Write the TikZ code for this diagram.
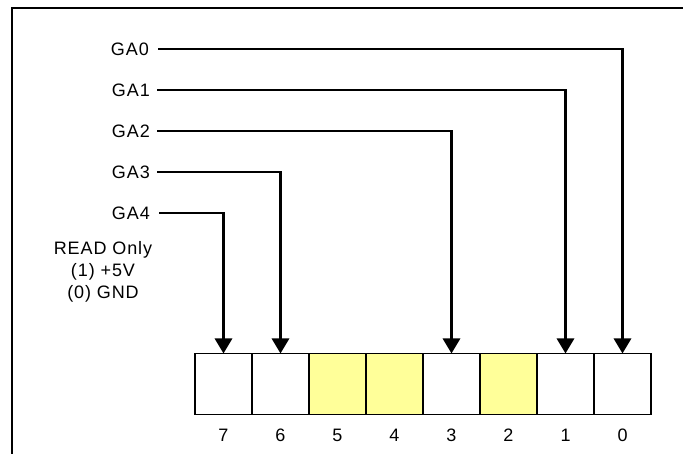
\documentclass[tikz,border=0pt]{standalone}
\usepackage{fontspec}
\setmainfont{Liberation Sans}[LetterSpace=5]
\usetikzlibrary{arrows.meta}
\definecolor{cellyellow}{RGB}{255,255,153}
\begin{document}
\begin{tikzpicture}[x=1pt,y=-1pt,
  lbl/.style={font=\fontsize{18}{22}\selectfont, inner sep=0pt},
  cell/.style={draw, line width=1.9pt, minimum width=57pt, minimum height=61pt,
    inner sep=0pt, outer sep=0pt, anchor=north west},
  wire/.style={line width=2.9pt, -{Triangle[width=17pt,length=15pt]}},
  frameline/.style={line width=2.8pt}]
\useasboundingbox (0,0) rectangle (683,454);
% frame
\coordinate (fr1) at (684,8);
\coordinate (fr2) at (12,8);
\coordinate (fr3) at (12,455);
\draw[frameline] (fr1) -- (fr2) -- (fr3);
% register cells
\foreach \i/\f in {7/white,6/white,5/cellyellow,4/cellyellow,3/white,2/cellyellow,1/white,0/white}{
  \node[cell, fill=\f] (c\i) at ({195+(7-\i)*57},353.5) {};
  \node[lbl, anchor=north] (n\i) at ([yshift=-14pt]c\i.south) {\i};
}
% labels
\node[lbl, anchor=east] (ga0) at (149,49) {GA0};
\node[lbl, anchor=east] (ga1) at (150,90) {GA1};
\node[lbl, anchor=east] (ga2) at (150,131) {GA2};
\node[lbl, anchor=east] (ga3) at (150,172) {GA3};
\node[lbl, anchor=east] (ga4) at (150,213) {GA4};
\node[lbl, align=center] (ro) at (103,272) {READ Only\\(1) +5V\\(0) GND};
% connectors
\draw[wire] ([xshift=9pt]ga0.east) -| (c0.north);
\draw[wire] ([xshift=7pt]ga1.east) -| (c1.north);
\draw[wire] ([xshift=7pt]ga2.east) -| (c3.north);
\draw[wire] ([xshift=7pt]ga3.east) -| (c6.north);
\draw[wire] ([xshift=9pt]ga4.east) -| (c7.north);
\end{tikzpicture}
\end{document}
